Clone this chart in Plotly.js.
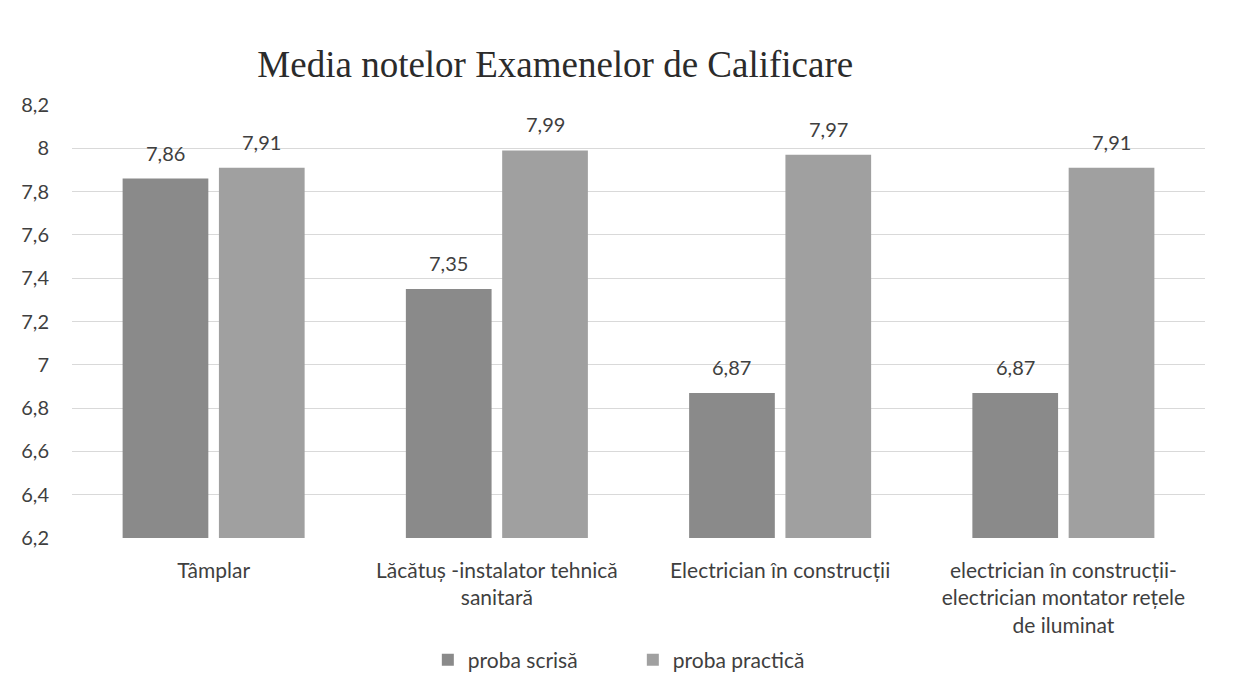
<!DOCTYPE html>
<html>
<head>
<meta charset="utf-8">
<script src="https://cdn.plot.ly/plotly-3.0.1.min.js"></script>
<style>html,body{margin:0;padding:0;background:#fff;}#chart{width:1234px;height:675px;}</style>
</head>
<body>
<div id="chart"></div>
<script>
const categories = [
  "Tâmplar",
  "Lăcătuș -instalator tehnică<br>sanitară",
  "Electrician în construcții",
  "electrician în construcții-<br>electrician montator rețele<br>de iluminat"
];
const seriesNames = ["proba scrisă", "proba practică"];
const probaScrisa = [7.86, 7.35, 6.87, 6.87];
const probaPractica = [7.91, 7.99, 7.97, 7.91];
const yTicks = [6.2, 6.4, 6.6, 6.8, 7, 7.2, 7.4, 7.6, 7.8, 8, 8.2];

const fam = "Lato, 'Open Sans', sans-serif";
const txtColor = "#3f3f3f";
const seriesColors = ["#8a8a8a", "#a0a0a0"];
const seriesValues = [probaScrisa, probaPractica];

const traces = seriesValues.map((vals, i) => ({
  type: "bar", name: seriesNames[i], x: categories, y: vals,
  marker: {color: seriesColors[i]}, hoverinfo: "skip"
}));

// data labels from the same arrays, placed above each bar
const plotW = 1234 - 72 - 29;
const catW = plotW / categories.length;
const bargap = 0.32;
const slot = catW * (1 - bargap) / 2;
const annotations = [];
seriesValues.forEach((vals, i) => {
  vals.forEach((v, j) => {
    annotations.push({
      x: categories[j], y: v, xref: "x", yref: "y",
      text: v.toFixed(2).replace(".", ","), showarrow: false,
      xshift: (i === 0 ? -1 : 1) * slot / 2, yshift: 12, yanchor: "bottom",
      font: {family: fam, size: 20, color: txtColor}
    });
  });
});

const layout = {
  width: 1234, height: 675,
  separators: ",.",
  paper_bgcolor: "#ffffff", plot_bgcolor: "#ffffff",
  margin: {l: 72, r: 29, t: 105, b: 137, autoexpand: false},
  title: {text: "Media notelor Examenelor de Calificare",
          font: {family: "'Liberation Serif', 'Times New Roman', serif", size: 37, color: "#2b2b2b"},
          x: 0.45, xanchor: "center", y: 0.905, yanchor: "middle"},
  barmode: "group", bargap: bargap, bargroupgap: 0.11,
  xaxis: {type: "category", showgrid: false, showline: false, zeroline: false, automargin: false,
          tickfont: {family: fam, size: 21, color: txtColor},
          ticks: "", ticklabelstandoff: 18},
  yaxis: {range: [6.2, 8.2], tickvals: yTicks, showgrid: true, gridcolor: "#d9d9d9", gridwidth: 1,
          zeroline: false, showline: false, ticks: "", automargin: false,
          tickfont: {family: fam, size: 20, color: txtColor},
          ticklabelstandoff: 22},
  annotations: annotations,
  legend: {orientation: "h", x: 0.495, xanchor: "center", y: -0.282, yanchor: "middle",
           font: {family: fam, size: 21, color: txtColor},
           itemwidth: 30, entrywidth: 160, traceorder: "normal"},
  showlegend: true
};

Plotly.newPlot("chart", traces, layout, {staticPlot: true, displayModeBar: false});
</script>
</body>
</html>
